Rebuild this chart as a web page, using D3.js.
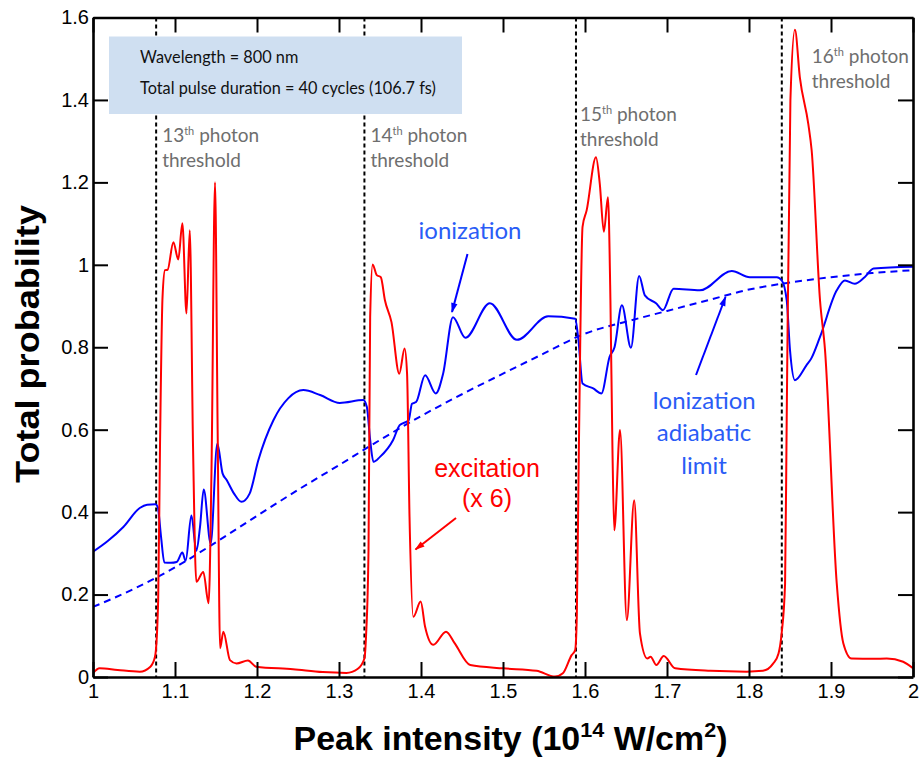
<!DOCTYPE html>
<html>
<head>
<meta charset="utf-8">
<script src="https://cdn.jsdelivr.net/npm/d3@7"></script>
<style>
  html, body { margin: 0; padding: 0; background: #fff; }
  svg { display: block; }
</style>
</head>
<body>
<svg id="chart" width="920" height="757"></svg>
<script>
// Peak intensity (10^14 W/cm^2) vs total probability

const xTicks = [1, 1.1, 1.2, 1.3, 1.4, 1.5, 1.6, 1.7, 1.8, 1.9, 2];
const xTickLabels = ["1", "1.1", "1.2", "1.3", "1.4", "1.5", "1.6", "1.7", "1.8", "1.9", "2"];
const yTicks = [0, 0.2, 0.4, 0.6, 0.8, 1, 1.2, 1.4, 1.6];
const yTickLabels = ["0", "0.2", "0.4", "0.6", "0.8", "1", "1.2", "1.4", "1.6"];

// n-photon threshold intensities
const thresholdOrders = ["13", "14", "15", "16"];
const thresholdIntensity = [1.077, 1.331, 1.589, 1.840];

// Ionization probability [intensity, probability]
const ionization = [
  [1.000, 0.304], [1.018, 0.330], [1.037, 0.364], [1.057, 0.410], [1.066, 0.418],
  [1.076, 0.419], [1.079, 0.412], [1.083, 0.340], [1.087, 0.278], [1.095, 0.277],
  [1.102, 0.279], [1.109, 0.302], [1.113, 0.282], [1.120, 0.392], [1.126, 0.306],
  [1.1305, 0.364], [1.135, 0.455], [1.1435, 0.324], [1.1516, 0.566], [1.158, 0.494],
  [1.163, 0.478], [1.172, 0.445], [1.181, 0.425], [1.191, 0.445], [1.2016, 0.526],
  [1.220, 0.623], [1.238, 0.676], [1.2565, 0.696], [1.277, 0.684], [1.301, 0.665],
  [1.3297, 0.672], [1.334, 0.655], [1.338, 0.575], [1.342, 0.522], [1.350, 0.534],
  [1.366, 0.575], [1.374, 0.611], [1.385, 0.623], [1.389, 0.663], [1.394, 0.667],
  [1.405, 0.732], [1.418, 0.688], [1.427, 0.736], [1.439, 0.873], [1.454, 0.823],
  [1.484, 0.907], [1.517, 0.818], [1.555, 0.875], [1.588, 0.869], [1.592, 0.817],
  [1.597, 0.712], [1.610, 0.700], [1.620, 0.688], [1.630, 0.777], [1.636, 0.800],
  [1.645, 0.902], [1.656, 0.799], [1.666, 0.973], [1.673, 0.926], [1.687, 0.906],
  [1.695, 0.890], [1.708, 0.942], [1.740, 0.938], [1.779, 0.985], [1.801, 0.970],
  [1.834, 0.970], [1.840, 0.962], [1.846, 0.914], [1.850, 0.793], [1.856, 0.720],
  [1.870, 0.756], [1.876, 0.773], [1.8866, 0.825], [1.907, 0.938], [1.917, 0.962],
  [1.929, 0.954], [1.941, 0.970], [1.952, 0.991], [2.000, 0.995]
];

// Excitation probability, multiplied by 6
const excitation = [
  [1.000, 0.009], [1.008, 0.021], [1.030, 0.017], [1.057, 0.013], [1.070, 0.025],
  [1.0756, 0.049], [1.0795, 0.187], [1.0817, 0.558], [1.0848, 0.922], [1.0878, 0.987],
  [1.091, 0.988], [1.098, 1.055], [1.104, 1.013], [1.109, 1.101], [1.114, 0.882],
  [1.118, 1.084], [1.122, 0.558], [1.126, 0.231], [1.1345, 0.255], [1.141, 0.179],
  [1.1445, 0.500], [1.1488, 1.200], [1.152, 0.600], [1.155, 0.070], [1.159, 0.110],
  [1.167, 0.041], [1.175, 0.033], [1.189, 0.040], [1.199, 0.025], [1.244, 0.019],
  [1.280, 0.012], [1.309, 0.010], [1.323, 0.020], [1.331, 0.045], [1.333, 0.100],
  [1.336, 0.310], [1.338, 0.873], [1.341, 1.001], [1.346, 0.975], [1.351, 0.970],
  [1.356, 0.914], [1.364, 0.861], [1.3735, 0.736], [1.380, 0.797], [1.383, 0.736],
  [1.386, 0.389], [1.3906, 0.146], [1.3996, 0.183], [1.405, 0.122], [1.415, 0.078],
  [1.4305, 0.110], [1.441, 0.082], [1.460, 0.029], [1.5004, 0.021], [1.541, 0.015],
  [1.5634, 0.001], [1.573, 0.009], [1.5837, 0.053], [1.588, 0.065], [1.590, 0.146],
  [1.5925, 0.550], [1.597, 1.092], [1.602, 1.132], [1.6134, 1.261], [1.618, 1.197],
  [1.623, 1.080], [1.628, 1.164], [1.631, 0.914], [1.6335, 0.550], [1.6357, 0.356],
  [1.6427, 0.599], [1.651, 0.138], [1.660, 0.429], [1.667, 0.106], [1.676, 0.045],
  [1.680, 0.049], [1.687, 0.029], [1.696, 0.051], [1.710, 0.021], [1.753, 0.015],
  [1.797, 0.013], [1.817, 0.015], [1.8296, 0.033], [1.836, 0.057], [1.8398, 0.106],
  [1.844, 0.227], [1.846, 0.631], [1.8505, 1.399], [1.856, 1.570], [1.862, 1.455],
  [1.8723, 1.342], [1.8764, 1.278], [1.8866, 0.914], [1.8927, 0.793], [1.907, 0.227],
  [1.915, 0.082], [1.925, 0.045], [1.952, 0.044], [1.968, 0.045], [1.988, 0.037],
  [2.000, 0.021]
];

// Adiabatic limit of the ionization probability
const adiabaticLimit = [
  [1.00, 0.170], [1.05, 0.214], [1.10, 0.266], [1.15, 0.327], [1.20, 0.391],
  [1.25, 0.454], [1.30, 0.514], [1.35, 0.575], [1.40, 0.633], [1.45, 0.686],
  [1.50, 0.736], [1.55, 0.785], [1.60, 0.833], [1.65, 0.862], [1.70, 0.888],
  [1.75, 0.914], [1.80, 0.940], [1.85, 0.957], [1.90, 0.970], [1.95, 0.980],
  [2.00, 0.987]
];

const infoLines = ["Wavelength = 800 nm", "Total pulse duration = 40 cycles (106.7 fs)"];

// ---- layout ----
const svg = d3.select("#chart");
const plot = { left: 93, right: 913, top: 17.5, bottom: 677 };

const x = d3.scaleLinear().domain([1, 2]).range([plot.left, plot.right]);
const y = d3.scaleLinear().domain([0, 1.6]).range([plot.bottom, plot.top]);

const AXIS_FONT = "'Liberation Sans', Arial, Helvetica, sans-serif";
const NOTE_FONT = "Lato, 'Open Sans', sans-serif";
const BLUE_TEXT = "#2a5cf6";
const GRAY_TEXT = "#6e6e6e";

// arrow markers
const defs = svg.append("defs");
[["arrowBlue", "#0000ff"], ["arrowRed", "#ff0000"]].forEach(([id, c]) => {
  defs.append("marker")
    .attr("id", id)
    .attr("viewBox", "0 -4 10 8")
    .attr("refX", 9).attr("refY", 0)
    .attr("markerUnits", "userSpaceOnUse")
    .attr("markerWidth", 11).attr("markerHeight", 8)
    .attr("orient", "auto")
    .append("path").attr("d", "M0,-3.2L10,0L0,3.2Z").attr("fill", c);
});
defs.append("clipPath").attr("id", "plotClip")
  .append("rect")
  .attr("x", plot.left).attr("y", plot.top - 2)
  .attr("width", plot.right - plot.left).attr("height", plot.bottom - plot.top + 2);

// threshold lines
svg.append("g").selectAll("line")
  .data(thresholdIntensity)
  .join("line")
  .attr("x1", d => x(d)).attr("x2", d => x(d))
  .attr("y1", y(1.6)).attr("y2", y(0))
  .attr("stroke", "#000").attr("stroke-width", 2)
  .attr("stroke-dasharray", "4,3");

// info box
const box = svg.append("g");
box.append("rect")
  .attr("x", 109).attr("y", 36.5).attr("width", 353).attr("height", 77.5)
  .attr("fill", "#cfdff1");
box.selectAll("text")
  .data(infoLines)
  .join("text")
  .attr("x", 140).attr("y", (d, i) => 63 + i * 30.5)
  .attr("font-family", NOTE_FONT).attr("font-size", 16.3)
  .attr("fill", "#111")
  .text(d => d);

// curves
const line = d3.line()
  .x(d => x(d[0])).y(d => y(d[1]))
  .curve(d3.curveMonotoneX);

const curves = svg.append("g").attr("clip-path", "url(#plotClip)");
curves.append("path").datum(adiabaticLimit)
  .attr("d", line).attr("fill", "none")
  .attr("stroke", "#0000ff").attr("stroke-width", 2)
  .attr("stroke-dasharray", "7,5");
curves.append("path").datum(ionization)
  .attr("d", line).attr("fill", "none")
  .attr("stroke", "#0000ff").attr("stroke-width", 2)
  .attr("stroke-linejoin", "round");
curves.append("path").datum(excitation)
  .attr("d", line).attr("fill", "none")
  .attr("stroke", "#ff0000").attr("stroke-width", 2)
  .attr("stroke-linejoin", "round");

// axes (ticks pointing inward, labels on bottom and left)
function styleAxis(g) {
  g.select(".domain").attr("stroke", "#000").attr("stroke-width", 2.6);
  g.selectAll(".tick line").attr("stroke", "#000").attr("stroke-width", 2);
  g.selectAll(".tick text")
    .attr("font-family", AXIS_FONT).attr("font-size", 20).attr("fill", "#000");
}
svg.append("g").attr("transform", `translate(0,${plot.bottom})`)
  .call(d3.axisBottom(x).tickValues(xTicks).tickFormat((d, i) => xTickLabels[i])
    .tickSizeInner(-15).tickSizeOuter(0).tickPadding(7))
  .call(styleAxis);
svg.append("g").attr("transform", `translate(0,${plot.top})`)
  .call(d3.axisTop(x).tickValues(xTicks).tickFormat("")
    .tickSizeInner(-15).tickSizeOuter(0))
  .call(styleAxis);
svg.append("g").attr("transform", `translate(${plot.left},0)`)
  .call(d3.axisLeft(y).tickValues(yTicks).tickFormat((d, i) => yTickLabels[i])
    .tickSizeInner(-15).tickSizeOuter(0).tickPadding(4))
  .call(styleAxis);
svg.append("g").attr("transform", `translate(${plot.right},0)`)
  .call(d3.axisRight(y).tickValues(yTicks).tickFormat("")
    .tickSizeInner(-15).tickSizeOuter(0))
  .call(styleAxis);

// threshold labels
const thresholdLabelPos = [
  { dx: 6, y: 142 }, { dx: 6, y: 142 }, { dx: 4, y: 121 }, { dx: 30, y: 63 }
];
thresholdOrders.forEach((n, i) => {
  const px = x(thresholdIntensity[i]) + thresholdLabelPos[i].dx;
  const py = thresholdLabelPos[i].y;
  const t = svg.append("text")
    .attr("x", px).attr("y", py)
    .attr("font-family", NOTE_FONT).attr("font-size", 19).attr("fill", GRAY_TEXT);
  t.append("tspan").text(n);
  t.append("tspan").attr("font-size", 11).attr("dy", -7).text("th");
  t.append("tspan").attr("dy", 7).text(" photon");
  svg.append("text")
    .attr("x", px).attr("y", py + 25)
    .attr("font-family", NOTE_FONT).attr("font-size", 19).attr("fill", GRAY_TEXT)
    .text("threshold");
});

// series annotations
svg.append("text")
  .attr("x", 470).attr("y", 239)
  .attr("text-anchor", "middle")
  .attr("font-family", NOTE_FONT).attr("font-size", 24).attr("fill", BLUE_TEXT)
  .text("ionization");
svg.append("line")
  .attr("x1", 467.5).attr("y1", 254).attr("x2", 452).attr("y2", 312)
  .attr("stroke", "#0000ff").attr("stroke-width", 2)
  .attr("marker-end", "url(#arrowBlue)");

["Ionization", "adiabatic", "limit"].forEach((s, i) => {
  svg.append("text")
    .attr("x", 704).attr("y", 408.5 + i * 32.5)
    .attr("text-anchor", "middle")
    .attr("font-family", NOTE_FONT).attr("font-size", 24).attr("fill", BLUE_TEXT)
    .text(s);
});
svg.append("line")
  .attr("x1", 696).attr("y1", 375).attr("x2", 725.5).attr("y2", 297)
  .attr("stroke", "#0000ff").attr("stroke-width", 2)
  .attr("marker-end", "url(#arrowBlue)");

["excitation", "(x 6)"].forEach((s, i) => {
  svg.append("text")
    .attr("x", 487).attr("y", 476.5 + i * 30.5)
    .attr("text-anchor", "middle")
    .attr("font-family", AXIS_FONT).attr("font-size", 25).attr("fill", "#ff0000")
    .text(s);
});
svg.append("line")
  .attr("x1", 456).attr("y1", 518).attr("x2", 415.5).attr("y2", 549.5)
  .attr("stroke", "#ff0000").attr("stroke-width", 2)
  .attr("marker-end", "url(#arrowRed)");

// axis titles, stretched to their measured span
const xTitle = svg.append("text")
  .attr("text-anchor", "middle")
  .attr("font-family", AXIS_FONT).attr("font-weight", "bold").attr("font-size", 33)
  .attr("fill", "#000");
xTitle.append("tspan").text("Peak intensity (10");
xTitle.append("tspan").attr("font-size", 21).attr("dy", -13).text("14");
xTitle.append("tspan").attr("dy", 13).text(" W/cm");
xTitle.append("tspan").attr("font-size", 21).attr("dy", -13).text("2");
xTitle.append("tspan").attr("dy", 13).text(")");
const xw = xTitle.node().getComputedTextLength();
xTitle.attr("transform", `translate(510.5,750) scale(${434 / xw},1)`);

const yTitle = svg.append("text")
  .attr("text-anchor", "middle")
  .attr("font-family", AXIS_FONT).attr("font-weight", "bold").attr("font-size", 33)
  .attr("fill", "#000")
  .text("Total probability");
const yw = yTitle.node().getComputedTextLength();
yTitle.attr("transform", `translate(39,344) rotate(-90) scale(${278 / yw},1)`);
</script>
</body>
</html>
